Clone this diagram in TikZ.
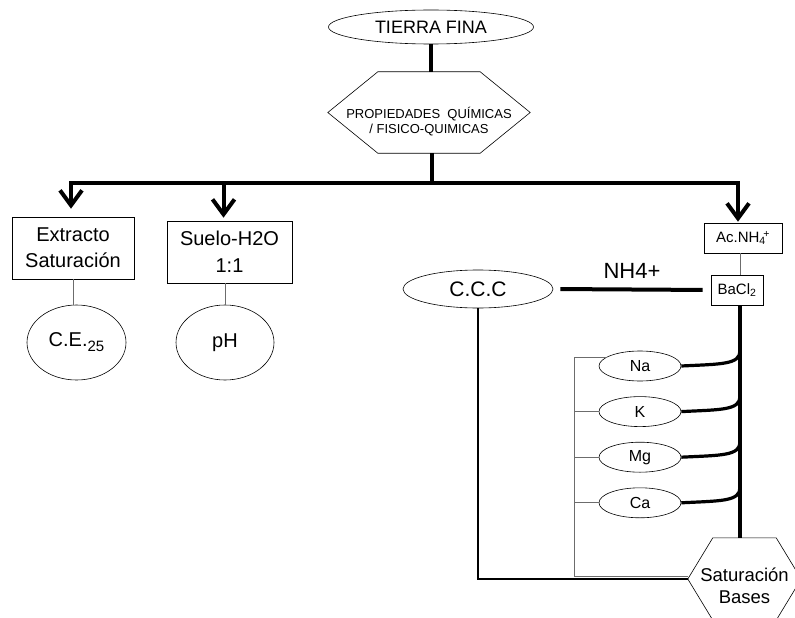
\documentclass[tikz,border=0pt]{standalone}
\usepackage{fontspec}
\setmainfont{Liberation Sans}
\usetikzlibrary{arrows.meta}
\usetikzlibrary{positioning}
\usetikzlibrary{shapes.geometric}

\begin{document}
\begin{tikzpicture}[
		x=1pt,y=-1pt,
		>={Straight Barb[length=15pt,width=22pt]},
		bus/.style={line width=4pt},
		link/.style={line width=0.8pt, gray!85!black},
		frame/.style={line width=1.6pt},
		outline/.style={line width=0.6pt},
		main node/.style={draw, line width=0.6pt, inner sep=0pt, align=center}
		,
		oval node/.style={
			main node,
			ellipse
		},
		box node/.style={
			main node,
			rectangle
		},
		hex node/.style={
			inner sep=0pt,
			rectangle
		},
		ion node/.style={
			oval node,
			minimum width=82pt,
			minimum height=30pt,
			font=\fontsize{16}{16}\selectfont
		}
		]
		\useasboundingbox (0,0) rectangle (795,618);
		
		\node[oval node, minimum width=205pt, minimum height=34pt, font=\fontsize{18}{18}\selectfont] (tierra) at (431,27) {TIERRA FINA};
		\node[hex node, minimum width=102pt, minimum height=81pt,
			label={[font=\fontsize{13}{15.5}\selectfont, align=center, yshift=-9pt]center:PROPIEDADES\ \ QUÍMICAS\\/ FISICO-QUIMICAS}] (props) at (429,112.5) {};
		\node[box node, minimum width=122pt, minimum height=62pt, font=\fontsize{20}{26}\selectfont] (extracto) at (73,248) {Extracto\\Saturación};
		\node[box node, minimum width=125pt, minimum height=62pt, font=\fontsize{20}{27}\selectfont] (suelo) at (229.5,252) {Suelo-H2O\\1:1};
		\node[oval node, minimum width=99pt, minimum height=75pt, font=\fontsize{20}{20}\selectfont] (ce) at (76.5,342.5) {C.E.\raisebox{-5pt}{\fontsize{15}{15}\selectfont 25}};
		\node[oval node, minimum width=98pt, minimum height=75pt, font=\fontsize{20}{20}\selectfont] (ph) at (225,342.5) {pH};
		\node[box node, minimum width=78pt, minimum height=30pt, font=\fontsize{15}{15}\selectfont] (acnh) at (743,238) {Ac.NH\textsubscript{4}\kern-2.5pt\textsuperscript{+}};
		\node[box node, minimum width=52pt, minimum height=30pt, font=\fontsize{15}{15}\selectfont] (bacl) at (737,290) {BaCl\textsubscript{2}};
		\node[oval node, minimum width=150pt, minimum height=38pt, font=\fontsize{21}{21}\selectfont] (ccc) at (478,289) {C.C.C};
		\node[ion node] (na) at (640,366) {Na};
		\node[ion node, below=15pt of na] (k) {K};
		\node[ion node, below=15pt of k] (mg) {Mg};
		\node[ion node, below=15pt of mg] (ca) {Ca};
		\node[hex node, minimum width=63pt, minimum height=82pt,
			label={[font=\fontsize{18.5}{22}\selectfont, align=center, yshift=-7pt]center:Saturación\\Bases}] (satur) at (744.5,579) {};
		
		% hexagon outlines
		\draw[outline] (props.north west) -- (props.north east) -- ([xshift=50pt]props.east)
			-- (props.south east) -- (props.south west) -- ([xshift=-50pt]props.west) -- cycle;
		\draw[outline] (satur.north west) -- (satur.north east) -- ([xshift=25pt]satur.east)
			-- (satur.south east) -- (satur.south west) -- ([xshift=-25pt]satur.west) -- cycle;
		
		\coordinate (bar) at (432,183);
		\coordinate (trunk) at (740,0);
		\coordinate (brk) at (574,576);
		\coordinate (saturtip) at ([xshift=-25pt]satur.west);
		
		\path[bus]
		(tierra) edge (props.north -| tierra)
		(props.south -| bar) edge (bar);
		\draw[bus, ->, shorten >=8pt] (bar) -| ([xshift=-2pt]extracto.north);
		\draw[bus, ->, shorten >=3pt] (bar) -| ([xshift=-6pt]suelo.north);
		\draw[bus, ->, shorten >=1pt] (bar) -| ([xshift=-5pt]acnh.north);
		
		\draw[link] (extracto.south) -- (extracto.south |- ce.north);
		\draw[link] (suelo.south -| ph.north) -- (ph.north);
		\draw[link] (trunk |- acnh.south) -- (trunk |- bacl.north);
		
		\draw[bus, shorten <=7pt, shorten >=8pt] (ccc.east) -- node[above=6pt, font=\fontsize{22}{22}\selectfont] {NH4+} (bacl.west);
		\draw[bus] (trunk |- bacl.south) -- (trunk |- satur.north);
		\foreach \ion in {na,k,mg,ca}
			\draw[bus, line width=3.2pt] (\ion.east) .. controls +(40,-2) and +(0,14) .. (trunk |- \ion.north);
		
		\draw[link] (na.165) -| (brk) -- (brk -| saturtip);
		\foreach \ion in {k,mg,ca}
			\draw[link] (\ion.west) -- (brk |- \ion.west);
		\draw[frame] (ccc.south) |- (saturtip);
	\end{tikzpicture}
\end{document}
